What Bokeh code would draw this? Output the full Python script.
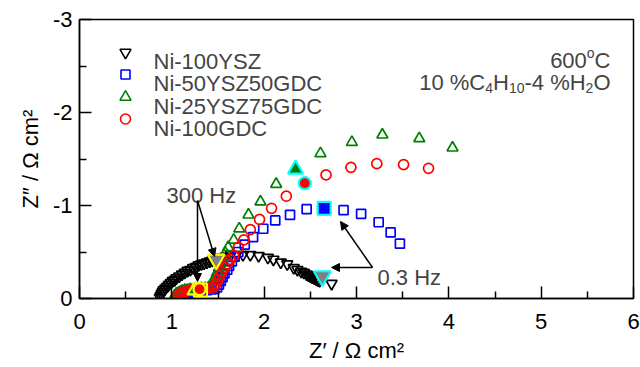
import math
from bokeh.plotting import figure
from bokeh.models import Range1d, FixedTicker, Label, Arrow, NormalHead
from bokeh.embed import file_html
from bokeh.resources import INLINE

# ---------------- data (Z' and Z'' in ohm cm2) ----------------
ysz100_zre = [0.87, 0.88, 0.89, 0.90, 0.91, 0.93, 0.95, 0.97, 0.99, 1.01,
              1.03, 1.05, 1.08, 1.11, 1.14, 1.17, 1.20, 1.23, 1.26, 1.29,
              1.32, 1.35, 1.38, 1.41, 1.44, 1.53, 1.58, 1.64, 1.70, 1.77,
              1.85, 1.94, 2.04, 2.10, 2.18, 2.25, 2.32, 2.36, 2.40, 2.43,
              2.46, 2.48, 2.50, 2.52, 2.54, 2.56, 2.58, 2.60, 2.73]
ysz100_zim = [-0.01, -0.03, -0.05, -0.07, -0.09, -0.11, -0.13, -0.15, -0.17, -0.19,
              -0.20, -0.22, -0.24, -0.26, -0.28, -0.30, -0.31, -0.33, -0.34, -0.36,
              -0.37, -0.38, -0.39, -0.40, -0.41, -0.44, -0.45, -0.47, -0.47, -0.47,
              -0.47, -0.46, -0.44, -0.42, -0.39, -0.37, -0.33, -0.31, -0.29, -0.28,
              -0.26, -0.25, -0.24, -0.23, -0.22, -0.21, -0.20, -0.19, -0.16]

gdc50_zre = [1.08, 1.10, 1.12, 1.15, 1.18, 1.22, 1.26, 1.30, 1.34, 1.38,
             1.42, 1.46, 1.49, 1.51, 1.53, 1.55, 1.57, 1.60, 1.62, 1.65,
             1.68, 1.72, 1.79, 1.88, 1.99, 2.12, 2.28, 2.46, 2.86, 3.05,
             3.24, 3.37, 3.47]
gdc50_zim = [0.00, -0.02, -0.04, -0.05, -0.06, -0.07, -0.08, -0.08, -0.09, -0.09,
             -0.10, -0.10, -0.12, -0.15, -0.19, -0.23, -0.27, -0.31, -0.35, -0.40,
             -0.45, -0.50, -0.58, -0.66, -0.75, -0.84, -0.90, -0.96, -0.95, -0.91,
             -0.82, -0.71, -0.59]

gdc75_zre = [1.03, 1.05, 1.07, 1.09, 1.11, 1.14, 1.17, 1.20, 1.24, 1.28,
             1.32, 1.36, 1.40, 1.43, 1.45, 1.47, 1.49, 1.51, 1.53, 1.55,
             1.58, 1.61, 1.67, 1.73, 1.83, 1.96, 2.13, 2.61, 2.95, 3.28,
             3.68, 4.04]
gdc75_zim = [-0.03, -0.05, -0.06, -0.07, -0.08, -0.09, -0.09, -0.10, -0.10, -0.10,
             -0.11, -0.11, -0.12, -0.14, -0.18, -0.23, -0.28, -0.33, -0.38, -0.43,
             -0.49, -0.55, -0.63, -0.75, -0.90, -1.04, -1.23, -1.56, -1.68, -1.76,
             -1.72, -1.62]

gdc100_zre = [1.05, 1.07, 1.09, 1.11, 1.13, 1.16, 1.19, 1.23, 1.27, 1.31,
              1.35, 1.39, 1.43, 1.46, 1.48, 1.50, 1.52, 1.54, 1.57, 1.60,
              1.63, 1.67, 1.72, 1.78, 1.85, 1.95, 2.08, 2.24, 2.67, 2.94,
              3.22, 3.51, 3.78]
gdc100_zim = [-0.01, -0.03, -0.05, -0.06, -0.07, -0.08, -0.09, -0.09, -0.10, -0.10,
              -0.10, -0.11, -0.11, -0.13, -0.16, -0.20, -0.24, -0.28, -0.33, -0.37,
              -0.42, -0.46, -0.55, -0.63, -0.74, -0.85, -0.97, -1.10, -1.33, -1.41,
              -1.45, -1.44, -1.40]

# highlighted frequencies: 300 Hz and 0.3 Hz  (order: 100YSZ, 50GDC, 75GDC, 100GDC)
f300_zre = [1.48, 1.31, 1.25, 1.30]
f300_zim = [-0.42, -0.09, -0.09, -0.10]
f03_zre = [2.63, 2.65, 2.34, 2.44]
f03_zim = [-0.24, -0.97, -1.39, -1.24]

series_names = ["Ni-100YSZ", "Ni-50YSZ50GDC", "Ni-25YSZ75GDC", "Ni-100GDC"]
x_ticks = [0, 1, 2, 3, 4, 5, 6]
y_ticks = [0, -1, -2, -3]
y_tick_labels = ["0", "-1", "-2", "-3"]
x_title = "Z\u2032 / \u03a9 cm\u00b2"
y_title = "Z\u2033 / \u03a9 cm\u00b2"

# ---------------- layout helpers ----------------
W, H = 640, 367
FL, FR, FT, FB = 79, 633, 19, 298
X0, X1, Y0, Y1 = 0.0, 6.0, 0.0, -3.0


def dx(px):
    return X0 + (px - FL) / (FR - FL) * (X1 - X0)


def dy(py):
    return Y0 + (FB - py) / (FB - FT) * (Y1 - Y0)


SANS = "Liberation Sans"
WID = {'0': .556, '1': .556, '2': .556, '3': .556, '4': .556, '5': .556, '6': .556,
       '7': .556, '8': .556, '9': .556, ' ': .278, '%': .889, 'C': .722, 'H': .722,
       '-': .333, 'O': .778, 'o': .556, '/': .278, 'Ω': .768, 'c': .5, 'm': .833}


def tw(s, size):
    return sum(WID.get(c, .6) for c in s) * size


p = figure(width=W, height=H, x_range=Range1d(X0, X1), y_range=Range1d(Y0, Y1),
           output_backend="svg", toolbar_location=None,
           min_border_left=FL, min_border_right=W - FR,
           min_border_top=FT, min_border_bottom=H - FB)
p.grid.visible = False
p.outline_line_color = "black"
p.outline_line_width = 1.5
p.background_fill_color = "white"
p.border_fill_color = "white"

for ax, ticks, minor in ((p.xaxis, x_ticks, [i + 0.5 for i in range(6)]),
                         (p.yaxis, y_ticks, [-0.5, -1.5, -2.5])):
    ax.ticker = FixedTicker(ticks=ticks, minor_ticks=minor)
    ax.major_tick_in = 12
    ax.major_tick_out = 0
    ax.minor_tick_in = 7
    ax.minor_tick_out = 0
    ax.axis_line_width = 1.5
    ax.major_tick_line_width = 1.5
    ax.minor_tick_line_width = 1.5
    ax.major_label_text_font = SANS
    ax.major_label_text_font_size = "22px"
    ax.major_label_text_color = "black"
    ax.axis_label_text_font = SANS
    ax.axis_label_text_font_size = "22px"
    ax.axis_label_text_font_style = "normal"
    ax.axis_label_text_color = "black"
p.xaxis.major_label_standoff = 15
p.yaxis.major_label_standoff = 7
p.yaxis.major_label_overrides = {t: s for t, s in zip(y_ticks, y_tick_labels)}
p.xaxis.axis_label = x_title
p.yaxis.axis_label = y_title
p.xaxis.axis_label_standoff = 6
p.yaxis.axis_label_standoff = 7

MS = dict(line_width=1.7, fill_color=None)
p.scatter(ysz100_zre, ysz100_zim, marker="inverted_triangle", size=11, line_color="black", **MS)
p.scatter(gdc50_zre, gdc50_zim, marker="square", size=9, line_color="#0000ff", **MS)
p.scatter(gdc75_zre, gdc75_zim, marker="triangle", size=11, line_color="#008000", **MS)
p.scatter(gdc100_zre, gdc100_zim, marker="circle", size=10, line_color="#ff0000", **MS)

markers = ["inverted_triangle", "square", "triangle", "circle"]
fills = ["#808080", "#0000ff", "#008000", "#ff0000"]
sizes_hi = [17, 13, 15, 12]
for i in range(4):
    p.scatter([f03_zre[i]], [f03_zim[i]], marker=markers[i], size=sizes_hi[i],
              fill_color=fills[i], line_color="#00ffff", line_width=2.2)
for i in range(4):
    p.scatter([f300_zre[i]], [f300_zim[i]], marker=markers[i], size=sizes_hi[i],
              fill_color=fills[i], line_color="#ffff00", line_width=2.2)


def add(px, py, text, size=22, font=SANS, style="normal", angle=0.0, align="left"):
    p.add_layout(Label(x=dx(px), y=dy(py), text=text, text_font=font,
                       text_font_size=f"{size}px", text_font_style=style,
                       text_baseline="alphabetic", text_align=align, angle=angle))


# ---------------- legend ----------------
legend_colors = ["black", "#0000ff", "#008000", "#ff0000"]
legend_sizes = [11, 9, 11, 10]
rows = [61, 83, 105.5, 127.5]
for i in range(4):
    p.scatter([dx(125)], [dy(rows[i] - 9)], marker=markers[i], size=legend_sizes[i],
              line_color=legend_colors[i], fill_color=None, line_width=1.6)
    add(153, rows[i], series_names[i])


def add_rich(right_px, base_py, pieces):
    total = sum(tw(t, s) for t, s, _ in pieces)
    x = right_px - total
    for t, s, off in pieces:
        add(x, base_py + off, t, size=s)
        x += tw(t, s)


add_rich(610, 60, [("600", 22, 0), ("o", 14, -8), ("C", 22, 0)])
add_rich(610, 82, [("10 %C", 22, 0), ("4", 14, 5), ("H", 22, 0), ("10", 14, 5),
                   ("-4 %H", 22, 0), ("2", 14, 5), ("O", 22, 0)])

# frequency annotations
add(166, 195, "300 Hz")
add(377, 277, "0.3 Hz")
head = dict(size=8, fill_color="black", line_color="black", line_width=1)
for (x0, y0, x1, y1) in [(197, 200, 214, 256), (197, 200, 197, 281),
                         (372, 267, 331, 267), (372, 267, 340, 221)]:
    p.add_layout(Arrow(x_start=dx(x0), y_start=dy(y0), x_end=dx(x1), y_end=dy(y1),
                       line_width=1.5, line_color="black", end=NormalHead(**head)))

open("out.html", "w").write(file_html(p, INLINE))
